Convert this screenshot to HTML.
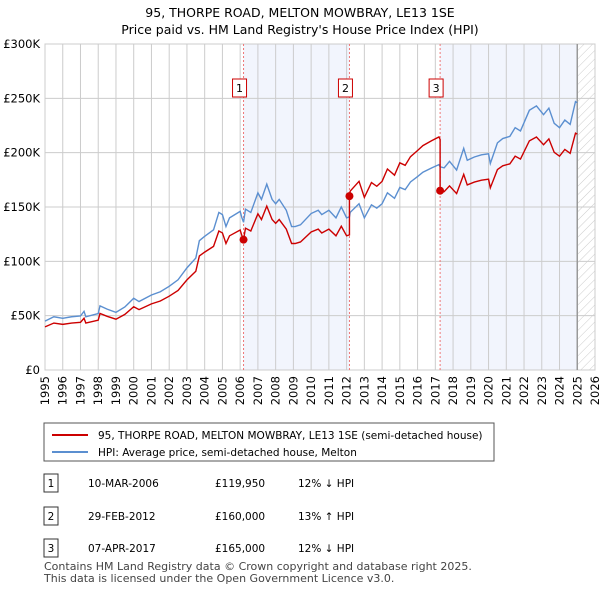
<!DOCTYPE html>
<html><head><meta charset="utf-8"><style>
body{margin:0;background:#fff;font-family:"Liberation Sans",sans-serif;}
svg text{font-family:"DejaVu Sans","Liberation Sans",sans-serif;}
</style></head><body>
<svg id="chart" width="600" height="590" xmlns="http://www.w3.org/2000/svg">
<defs><pattern id="hatch" width="6" height="6" patternUnits="userSpaceOnUse" patternTransform="rotate(45)"><line x1="0" y1="0" x2="0" y2="6" stroke="#ccc" stroke-width="1"/></pattern></defs>
<text x="300" y="17" text-anchor="middle" font-size="12.5">95, THORPE ROAD, MELTON MOWBRAY, LE13 1SE</text>
<text x="300" y="34" text-anchor="middle" font-size="12.5">Price paid vs. HM Land Registry's House Price Index (HPI)</text>
<g id="plot"></g>
<g>
<rect x="44" y="423" width="450" height="38" fill="#fff" stroke="#555"/>
<line x1="52" y1="435" x2="88" y2="435" stroke="#cc0000" stroke-width="2"/>
<text x="98" y="439" font-size="10.5">95, THORPE ROAD, MELTON MOWBRAY, LE13 1SE (semi-detached house)</text>
<line x1="52" y1="452" x2="88" y2="452" stroke="#5b8fd0" stroke-width="2"/>
<text x="98" y="456" font-size="10.5">HPI: Average price, semi-detached house, Melton</text>
</g>
<g id="table" font-size="10.5"></g>
<text x="44" y="570" font-size="11" fill="#444">Contains HM Land Registry data © Crown copyright and database right 2025.</text>
<text x="44" y="582" font-size="11" fill="#444">This data is licensed under the Open Government Licence v3.0.</text>
</svg>
<script>
const hpiYears=[1995,1995.5,1996,1996.5,1997,1997.2,1997.3,1998,1998.1,1998.5,1999,1999.5,2000,2000.3,2001,2001.5,2002,2002.5,2003,2003.5,2003.7,2004,2004.5,2004.8,2005,2005.2,2005.4,2006,2006.1,2006.19,2006.3,2006.6,2007,2007.2,2007.5,2007.8,2008,2008.2,2008.6,2008.9,2009.1,2009.4,2010,2010.4,2010.6,2011,2011.4,2011.7,2012,2012.16,2012.2,2012.7,2013,2013.4,2013.7,2014,2014.3,2014.7,2015,2015.3,2015.6,2016,2016.3,2016.8,2017.2,2017.27,2017.5,2017.8,2018.2,2018.6,2018.8,2019.2,2019.6,2020,2020.1,2020.5,2020.8,2021.2,2021.5,2021.8,2022.3,2022.7,2023.1,2023.4,2023.7,2024,2024.3,2024.6,2024.9,2025];
const hpiValues=[45,49,47.6,49,49.7,54,49,52,59,56,53,58,66,63,69,72,77,83,94,103,119,123,129,145,143,132,140,146,140,136,148,145,163,157,171,157,153,157,147,132,132,133.6,144,147,143,147,140,150,140,141,145,153,140,152,149,153,163,158,168,166,173,178,182,186,189,187,186,192,184,204,193,196,198,199,190,209,213,215,223,220,239,243,235,241,227,223,230,226,247,246];
const saleYears=[2006.19,2012.16,2017.27];
const salePrices=[119.95,160,165];
const saleLabels=["1","2","3"];
const saleDates=["10-MAR-2006","29-FEB-2012","07-APR-2017"];
const salePriceText=["£119,950","£160,000","£165,000"];
const saleHpiText=["12% ↓ HPI","13% ↑ HPI","12% ↓ HPI"];
const yTicks=[0,50,100,150,200,250,300];
const yTickLabels=["£0","£50K","£100K","£150K","£200K","£250K","£300K"];
const xTicks=[1995,1996,1997,1998,1999,2000,2001,2002,2003,2004,2005,2006,2007,2008,2009,2010,2011,2012,2013,2014,2015,2016,2017,2018,2019,2020,2021,2022,2023,2024,2025,2026];

const X0=45,X1=595,Y0=370,Y1=44;
const xs=y=>X0+(y-1995)/(2026-1995)*(X1-X0);
const ys=v=>Y0-v/300*(Y0-Y1);
const NS="http://www.w3.org/2000/svg";
const plot=document.getElementById('plot');
function mk(tag,attrs,parent){const e=document.createElementNS(NS,tag);for(const k in attrs)e.setAttribute(k,attrs[k]);(parent||plot).appendChild(e);return e;}
function hpiAt(t){for(let i=1;i<hpiYears.length;i++){if(t<=hpiYears[i]){const a=hpiYears[i-1],b=hpiYears[i];return hpiValues[i-1]+(hpiValues[i]-hpiValues[i-1])*(t-a)/(b-a);}}return hpiValues[hpiValues.length-1];}
const bounds=[saleYears[0],saleYears[1],saleYears[2],2025];
let r=mk('rect',{x:xs(bounds[0]),y:Y1,width:xs(bounds[1])-xs(bounds[0]),height:Y0-Y1,fill:'#f2f5fd'});

r=mk('rect',{x:xs(bounds[2]),y:Y1,width:xs(bounds[3])-xs(bounds[2]),height:Y0-Y1,fill:'#f2f5fd'});

r=mk('rect',{x:xs(2025),y:Y1,width:X1-xs(2025),height:Y0-Y1,fill:'url(#hatch)'});

yTicks.forEach((v,i)=>{
 const l=mk('line',{x1:X0,x2:X1,y1:ys(v),y2:ys(v),stroke:'#ccc'});
 
 const t=mk('text',{x:40,y:ys(v)+4,'text-anchor':'end','font-size':'11.5'});t.textContent=yTickLabels[i];
 
});
xTicks.forEach(y=>{
 const l=mk('line',{x1:xs(y),x2:xs(y),y1:Y1,y2:Y0,stroke:'#ccc'});
 
 const t=mk('text',{x:0,y:0,'text-anchor':'end','font-size':'11.5',transform:`translate(${xs(y)+4},${Y0+6}) rotate(-90)`});t.textContent=y;
 
});
const b=mk('rect',{x:X0,y:Y1,width:X1-X0,height:Y0-Y1,fill:'none',stroke:'#ccc'});

const nl=mk('line',{x1:xs(2025),x2:xs(2025),y1:Y1,y2:Y0,stroke:'#999','stroke-width':1.5});

saleYears.forEach((s,i)=>{
 const l=mk('line',{x1:xs(s),x2:xs(s),y1:Y1,y2:Y0,stroke:'#ee7777','stroke-dasharray':'2,2'});
 
 const g=mk('g',{});
 
 mk('rect',{x:xs(s)-11,y:79,width:14,height:18,fill:'#fff',stroke:'#cc0000'},g);
 const t=mk('text',{x:xs(s)-4,y:92,'text-anchor':'middle','font-size':'11'},g);t.textContent=saleLabels[i];
});
const hp=mk('polyline',{points:hpiYears.map((y,i)=>xs(y)+','+ys(hpiValues[i])).join(' '),fill:'none',stroke:'#5b8fd0','stroke-width':1.4});

const factors=saleYears.map((s,i)=>salePrices[i]/hpiAt(s));
function fac(t){let f=factors[0];saleYears.forEach((s,i)=>{if(t>=s)f=factors[i];});return f;}
const pts=[];
hpiYears.forEach((y,i)=>{
 saleYears.forEach((s,k)=>{if(k>0&&y===s)pts.push(xs(y)+','+ys(hpiValues[i]*factors[k-1]));});
 pts.push(xs(y)+','+ys(hpiValues[i]*fac(y)));
});
const rp=mk('polyline',{points:pts.join(' '),fill:'none',stroke:'#cc0000','stroke-width':1.4});

saleYears.forEach((s,i)=>{
 const c=mk('circle',{cx:xs(s),cy:ys(salePrices[i]),r:4,fill:'#cc0000'});
 
});
const tb=document.getElementById('table');
const rowsY=[483,516,548];
saleLabels.forEach((l,i)=>{
 const g=mk('g',{},tb);
 
 mk('rect',{x:44,y:rowsY[i]-9,width:14,height:18,fill:'#fff',stroke:'#333'},g);
 let t=mk('text',{x:51,y:rowsY[i]+4,'text-anchor':'middle'},g);t.textContent=l;
 t=mk('text',{x:88,y:rowsY[i]+4},g);t.textContent=saleDates[i];
 t=mk('text',{x:215,y:rowsY[i]+4},g);t.textContent=salePriceText[i];
 t=mk('text',{x:298,y:rowsY[i]+4},g);t.textContent=saleHpiText[i];
});
</script>
</body></html>
